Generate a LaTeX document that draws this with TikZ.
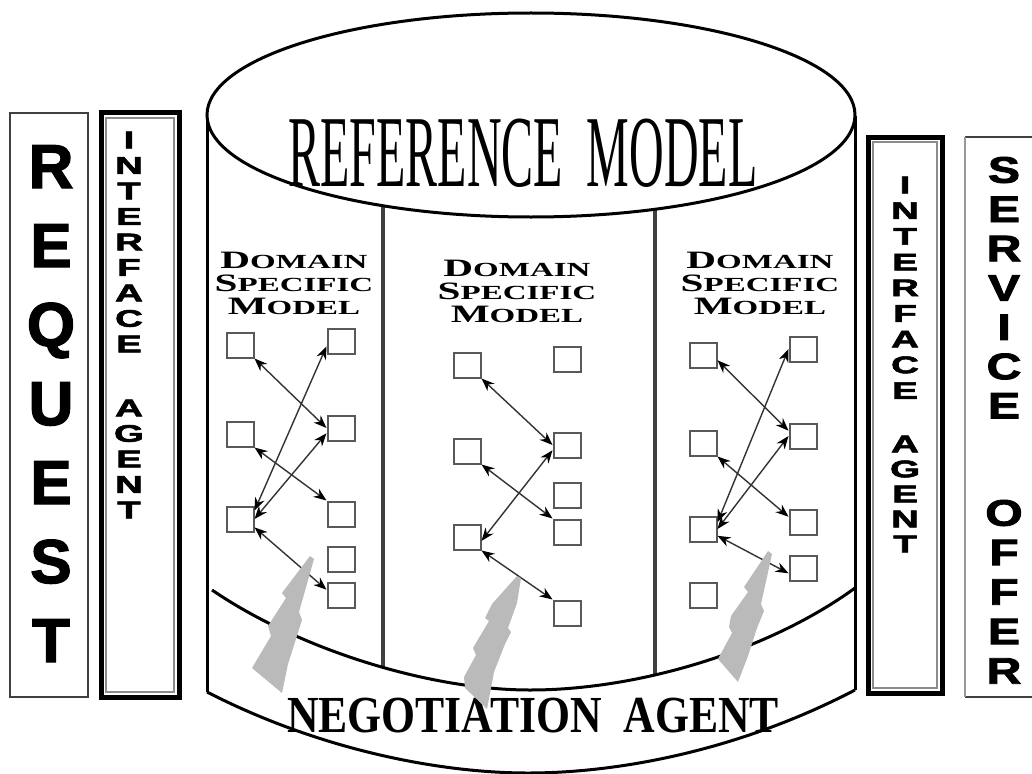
\documentclass[tikz,border=0pt]{standalone}
\usepackage{fontspec}
\setmainfont{Liberation Serif}
\newfontfamily\heavyfont{Liberation Sans}[BoldFeatures={FakeBold=2.2}]
\usetikzlibrary{arrows.meta}

% small-caps style initial for the domain model titles
\newcommand\dsmcap[1]{{\fontsize{25}{23}\selectfont #1}}
\newcommand\dsmline[1]{\scalebox{1.65}[1]{#1}}

\begin{document}
\begin{tikzpicture}[x=1pt,y=-1pt,
  outline/.style={line width=3pt,draw=black},
  divider/.style={line width=3.5pt,draw=black!75},
  sidebox/.style={line width=2.5pt,draw=black!75},
  agentouter/.style={line width=5pt,draw=black},
  agentinner/.style={line width=2pt,draw=black!45},
  cell/.style={draw=black!65,line width=2pt,minimum width=27pt,minimum height=25pt,
    inner sep=0pt,fill=white},
  link/.style={draw=black!80,line width=1.4pt,
    {Stealth[length=13pt,width=10pt,black]}-{Stealth[length=13pt,width=10pt,black]}},
  bolt/.style={fill=black!27,draw=none},
  dsm/.style={align=center,inner sep=0pt,
    font=\fontsize{20}{23}\selectfont\bfseries},
  bigletter/.style={inner sep=0pt,anchor=base,
    font=\heavyfont\bfseries\fontsize{62}{62}\selectfont},
  agentletter/.style={inner sep=0pt,anchor=center,
    font=\heavyfont\bfseries\fontsize{24}{24}\selectfont},
  offerletter/.style={inner sep=0pt,anchor=center,
    font=\heavyfont\bfseries\fontsize{37}{37}\selectfont},
]
\useasboundingbox (0,0) rectangle (1032,773);
\fill[white] (0,0) rectangle (1032,773);

% ---- left column: request and its interface agent
\draw[sidebox] (10,113) rectangle (88,697);
\draw[agentouter] (101,113) rectangle (179,697);
\draw[agentinner] (106,118) rectangle (174,692);
\foreach \ch [count=\i] in {R,E,Q,U,E,S,T}
  \node[bigletter] (req\i) at (51,{188+(\i-1)*79}) {\ch};
\foreach \ch [count=\i] in {I,N,T,E,R,F,A,C,E}
  \node[agentletter] (ifl\i) at (129,{140+(\i-1)*25.5}) {\scalebox{1.6}[1]{\ch}};
\foreach \ch [count=\i] in {A,G,E,N,T}
  \node[agentletter] (ifla\i) at (129,{408+(\i-1)*25.5}) {\scalebox{1.6}[1]{\ch}};

% ---- right column: interface agent and service offer
\draw[agentouter] (868,137) rectangle (942,693);
\draw[agentinner] (873,142) rectangle (937,688);
\draw[sidebox] (965,137) -- (1040,137);
\draw[sidebox] (965,697) -- (1040,697);
\draw[line width=2.5pt,draw=black!40] (965,137) -- (965,697);
\foreach \ch [count=\i] in {I,N,T,E,R,F,A,C,E}
  \node[agentletter] (ifr\i) at (905,{185+(\i-1)*25.7}) {\scalebox{1.6}[1]{\ch}};
\foreach \ch [count=\i] in {A,G,E,N,T}
  \node[agentletter] (ifra\i) at (905,{444+(\i-1)*25}) {\scalebox{1.6}[1]{\ch}};
\foreach \ch [count=\i] in {S,E,R,V,I,C,E}
  \node[offerletter] (srv\i) at (1004,{170+(\i-1)*39.3}) {\scalebox{1.3}[1]{\ch}};
\foreach \ch [count=\i] in {O,F,F,E,R}
  \node[offerletter] (off\i) at (1004,{513+(\i-1)*39.5}) {\scalebox{1.3}[1]{\ch}};

% ---- cylinder of the reference model
\draw[outline] (207,116) -- (207,692);
\draw[outline] (855,116) -- (855,690);
\draw[outline] (207,692) .. controls (320,750) and (440,773) .. (528,773)
  .. controls (620,773) and (740,750) .. (855,690);
\draw[divider] (383,200) -- (383,668);
\draw[divider] (655,200) -- (655,675);
\draw[outline] (212,590) .. controls (300,650) and (430,690) .. (530,690)
  .. controls (640,690) and (770,650) .. (855,588);
\filldraw[outline,fill=white] (531,115) ellipse [x radius=324,y radius=102];

\node[inner sep=0pt] (refmodel) at (523,153)
  {\scalebox{0.47}[1]{\fontsize{102}{102}\selectfont REFERENCE\ \ MODEL}};
\node[inner sep=0pt] (negagent) at (533,716)
  {\scalebox{0.84}[1]{\fontsize{52}{52}\selectfont\bfseries NEGOTIATION\ \ AGENT}};

% ---- domain specific model titles
\node[dsm] (dsm1) at (294,283)
  {\dsmline{\dsmcap{D}OMAIN}\\\dsmline{\dsmcap{S}PECIFIC}\\\dsmline{\dsmcap{M}ODEL}};
\node[dsm] (dsm2) at (517,291)
  {\dsmline{\dsmcap{D}OMAIN}\\\dsmline{\dsmcap{S}PECIFIC}\\\dsmline{\dsmcap{M}ODEL}};
\node[dsm] (dsm3) at (760,283)
  {\dsmline{\dsmcap{D}OMAIN}\\\dsmline{\dsmcap{S}PECIFIC}\\\dsmline{\dsmcap{M}ODEL}};

% ---- panel 1 model elements
\node[cell] (p1l1) at (240,345) {};
\node[cell] (p1l2) at (240,434) {};
\node[cell] (p1l3) at (240,519) {};
\node[cell] (p1r1) at (341,341) {};
\node[cell] (p1r2) at (341,428) {};
\node[cell] (p1r3) at (341,514) {};
\node[cell] (p1r4) at (341,559) {};
\node[cell] (p1r5) at (341,595) {};
\draw[link] (p1l1.south east) -- (p1r2.west);
\draw[link] (p1l2.south east) -- (p1r3.north west);
\draw[link] (p1l3.30) -- (p1r1.200);
\draw[link] (p1l3.0) -- (p1r2.200);
\draw[link] (p1l3.-30) -- (p1r5.160);

% ---- panel 2 model elements
\node[cell] (p2l1) at (467,365) {};
\node[cell] (p2l2) at (467,451) {};
\node[cell] (p2l3) at (467,537) {};
\node[cell] (p2r1) at (567,359) {};
\node[cell] (p2r2) at (567,445) {};
\node[cell] (p2r3) at (567,495) {};
\node[cell] (p2r4) at (567,532) {};
\node[cell] (p2r5) at (567,613) {};
\draw[link] (p2l1.south east) -- (p2r2.west);
\draw[link] (p2l2.south east) -- (p2r4.north west);
\draw[link] (p2r2.200) -- (p2l3.-15);
\draw[link] (p2l3.south east) -- (p2r5.north west);

% ---- panel 3 model elements
\node[cell] (p3l1) at (703,355) {};
\node[cell] (p3l2) at (703,443) {};
\node[cell] (p3l3) at (703,529) {};
\node[cell] (p3l4) at (703,595) {};
\node[cell] (p3r1) at (803,349) {};
\node[cell] (p3r2) at (803,436) {};
\node[cell] (p3r3) at (803,522) {};
\node[cell] (p3r4) at (803,568) {};
\draw[link] (p3l1.-20) -- (p3r2.160);
\draw[link] (p3l2.south east) -- (p3r3.160);
\draw[link] (p3l3.25) -- (p3r1.west);
\draw[link] (p3l3.0) -- (p3r2.west);
\draw[link] (p3l3.-25) -- (p3r4.200);

% ---- negotiation bolts
\fill[bolt] (310,556) -- (282,593) -- (286,598) -- (268,626) -- (271,636)
  -- (252,668) -- (282,693) -- (288,664) -- (302,620) -- (299,612)
  -- (314,559) -- cycle;
\fill[bolt] (517,576) -- (492,604) -- (485,618) -- (489,621) -- (473,648)
  -- (476,655) -- (464,677) -- (465,688) -- (487,709) -- (494,672)
  -- (505,644) -- (511,632) -- (508,628) -- (517,603) -- (521,578) -- cycle;
\fill[bolt] (768,551) -- (744,587) -- (748,592) -- (731,616) -- (729,627)
  -- (732,633) -- (718,659) -- (738,682) -- (748,656) -- (757,628)
  -- (764,611) -- (761,604) -- (772,554) -- cycle;
\end{tikzpicture}
\end{document}
